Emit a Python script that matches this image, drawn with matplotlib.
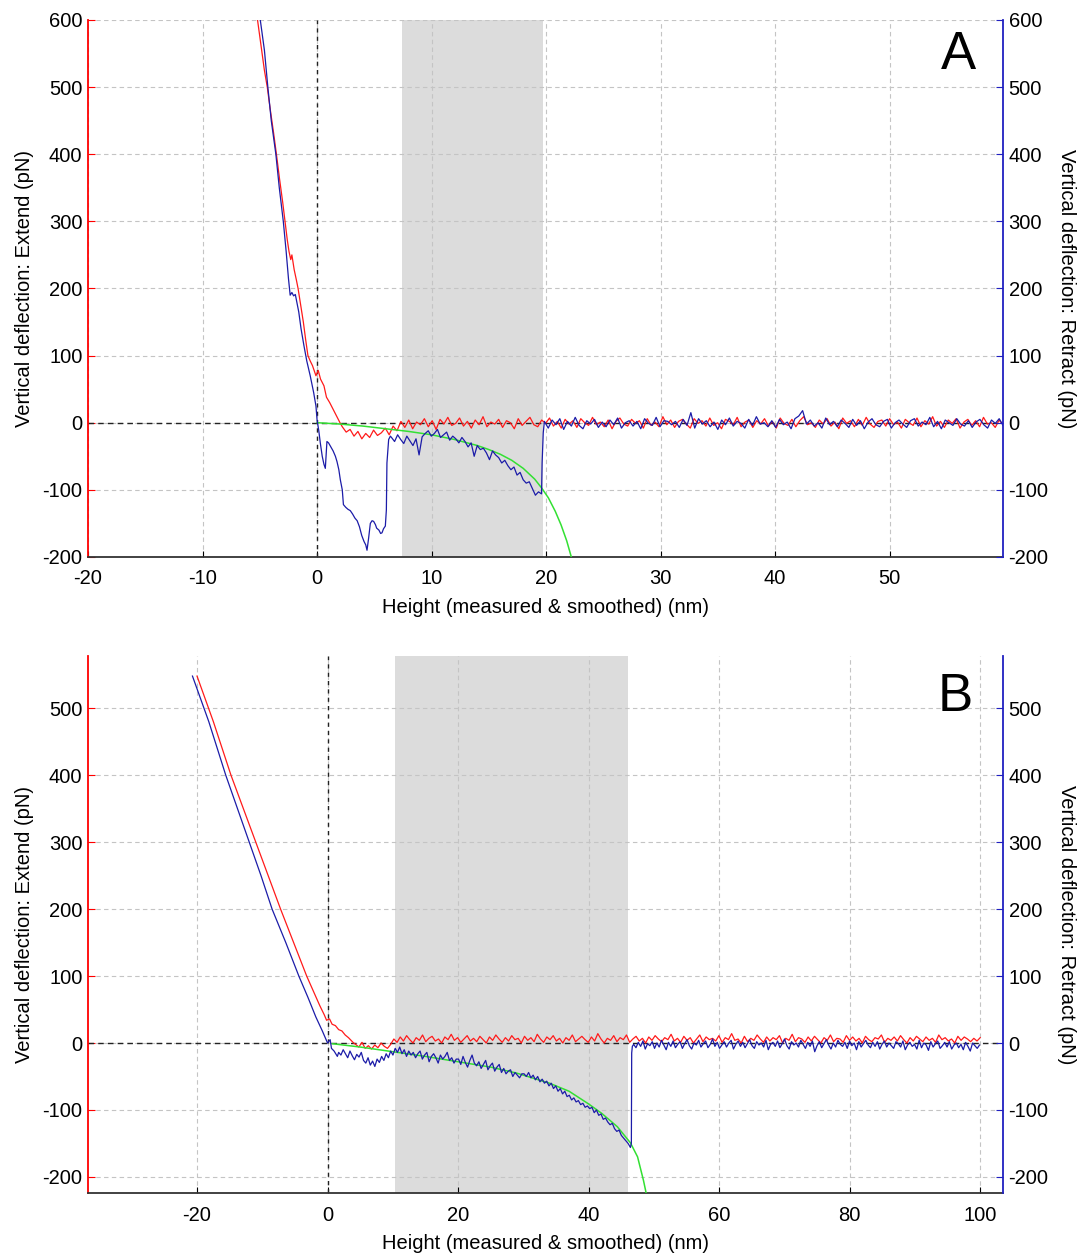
import numpy as np
import matplotlib.pyplot as plt

plt.rcParams['font.family'] = ['Liberation Sans', 'DejaVu Sans']
plt.rcParams['axes.unicode_minus'] = False

# ---------------- panel A data ----------------
# extend (red): steep contact part, then flat noisy tail
a_ext_head = np.array([
    (-5.2, 600), (-4.9, 562), (-4.6, 525), (-4.35, 500), (-4.1, 468), (-3.8, 432),
    (-3.55, 400), (-3.3, 366), (-3.0, 328), (-2.8, 300), (-2.6, 272), (-2.45, 255),
    (-2.3, 243), (-2.2, 250), (-2.0, 228), (-1.8, 212), (-1.66, 200), (-1.4, 172),
    (-1.2, 150), (-1.0, 124), (-0.8, 100), (-0.6, 92), (-0.4, 85), (-0.1, 70),
    (0.1, 78), (0.3, 65), (0.6, 55), (0.82, 38), (1.1, 30), (1.4, 20), (1.7, 10), (2.0, 0)])
a_ext_tail = [
    -6, -14, -10, -20, -13, -24, -16, -22, -11, -19,
    -15, -8, -18, -5, -12, 2, -7, 4, -9, 1,
    -3, 6, -6, 3, -10, 5, -2, 8, -4, -1,
    7, -5, 2, -8, 4, -3, 9, -6, 1, -2,
    5, -7, 3, 0, -9, 6, -4, 2, 8, -3,
    -6, 4, -1, 7, -5, 2, -8, 5, -2, 3,
    -7, 6, 0, -4, 8, -3, 1, -6, 4, -9,
    2, 7, -2, -5, 5, -1, 3, -8, 6, -4,
    1, -6, 9, -3, 4, -7, 2, 5, -2, -8,
    6, -1, 3, -5, 7, -4, 0, -9, 5, 2,
    -3, 8, -6, 1, 4, -7, 3, -2, 6, -5,
    2, -8, 7, -1, -4, 5, -6, 3, 9, -3,
    0, -7, 4, -2, 6, -5, 1, -9, 7, -1,
    3, -6, 5, -4, 8, -2, -7, 2, 4, -5,
    6, -3, 1, -8, 5, 0, -4, 7, -6, 3,
    -2, 9, -5, 2, -7, 4, -1, 6, -8, 1,
    5, -4, 3, -6, 8, -2, 0, -7, 4, -3]
a_ext_tail_x = (2.2, 59.9)

# retract (blue): contact + adhesion peaks
a_ret_head = np.array([
    (-4.96, 600), (-4.6, 555), (-4.3, 500), (-4.0, 450), (-3.6, 400), (-3.3, 350),
    (-2.95, 300), (-2.7, 255), (-2.5, 215), (-2.35, 190), (-2.2, 194), (-2.05, 189),
    (-1.9, 191), (-1.75, 178), (-1.6, 165), (-1.4, 140), (-1.15, 115), (-0.9, 92),
    (-0.6, 70), (-0.3, 45), (-0.1, 25), (0.0, 4), (0.15, -12), (0.28, -30),
    (0.45, -50), (0.6, -62), (0.72, -68), (0.86, -28), (1.0, -30), (1.2, -36),
    (1.4, -42), (1.6, -50), (1.74, -58), (1.9, -70), (2.03, -85), (2.2, -100),
    (2.3, -122), (2.5, -126), (2.7, -129), (2.9, -131), (3.1, -136), (3.3, -142),
    (3.5, -146), (3.7, -155), (3.9, -168), (4.1, -177), (4.25, -182), (4.36, -190),
    (4.5, -172), (4.65, -150), (4.8, -146), (4.94, -147), (5.1, -152), (5.2, -157),
    (5.4, -160), (5.55, -165), (5.67, -164), (5.8, -158), (5.96, -154), (6.05, -130),
    (6.1, -60), (6.25, -25), (6.4, -20)])
# stretched part, x 6.5 -> 19.6
a_ret_mid = [
    -22, -28, -18, -25, -31, -20, -27, -34, -24, -48,
    -21, -16, -12, -20, -16, -10, -22, -18, -14, -26,
    -20, -24, -30, -22, -28, -36, -30, -50, -34, -40,
    -38, -45, -55, -42, -48, -52, -60, -56, -64, -70,
    -66, -78, -74, -85, -90, -88, -98, -108, -103, -106]
a_ret_mid_x = (6.5, 19.6)
a_ret_jump = np.array([(19.65, -60), (19.75, -15)])
# after rupture, x 19.85 -> 59.9
a_ret_tail = [
    2, -8, 4, -3, 6, -10, 2, -5, 8, -4,
    -9, 3, -2, 5, -7, 1, -6, 4, -3, 7,
    -8, 0, 3, -5, 2, -9, 6, -1, -4, 8,
    -6, 3, 2, -3, 2, -7, 5, -4, 15, -8,
    6, -2, 3, -6, 1, -10, 4, -3, 7, -5,
    2, -1, -8, 5, -4, 9, -2, 0, -6, 3,
    -7, 5, -3, 1, -9, 6, 10, 18, -2, 4,
    -5, 0, -8, 7, -3, 2, -6, 4, -1, -7,
    5, -4, 3, -9, 1, 6, -3, -6, 2, 5,
    -8, 0, 4, -2, -7, 3, 6, -5, 1, -3,
    8, -6, 2, -9, 4, 0, -4, 6, -2, -5,
    3, -7, 1, 5, -3, -8, 4, -1, 6, -4]
a_ret_tail_x = (19.85, 59.9)

# fit (green)
a_fit = np.array([
    (0, 0), (2, -2), (4, -5), (6, -9), (8, -13), (10, -18), (12, -25), (14, -34),
    (15, -40), (16, -47), (17, -56), (18, -68), (19, -84), (19.6, -97), (20.2, -112),
    (20.8, -132), (21.3, -152), (21.8, -176), (22.2, -200)])
a_span = (7.4, 19.7)

# ---------------- panel B data ----------------
b_ext_head = np.array([
    (-20.0, 548), (-17.5, 480), (-14.8, 400), (-12.9, 350), (-11.0, 300), (-9.1, 250),
    (-7.2, 200), (-5.2, 150), (-3.2, 100), (-2.2, 78), (-1.2, 56), (-0.5, 42),
    (-0.15, 34), (0.3, 36), (0.7, 28), (1.2, 26), (1.7, 20), (2.2, 18), (2.7, 12),
    (3.2, 8), (3.6, 4), (4.0, 0)])
b_ext_tail = [
    -2, -6, 1, -8, -4, -9, -3, -7, 0, -5, -8, -2,
    6, 1, 9, 3, 11, 5, 0, 8, 4, 12,
    2, 7, 10, 3, 6, 0, 9, 5, 13, 4,
    8, 1, 6, 11, 3, 7, 2, 10, 5, 0,
    9, 4, 12, 6, 1, 8, 3, 11, 5, 7,
    0, 10, 4, 8, 2, 13, 6, 1, 9, 5,
    11, 3, 7, 0, 8, 4, 12, 2, 6, 10,
    5, 1, 9, 3, 14, 6, 0, 7, 4, 11,
    2, 8, 5, 12, 1, 6, 10, 3, 7, 0,
    9, 4, 11, 6, 2, 8, 5, 13, 3, 7,
    1, 10, 4, 8, 0, 6, 12, 2, 9, 5,
    7, 3, 11, 1, 8, 5, 14, 4, 6, 0,
    10, 2, 7, 4, 12, 6, 1, 9, 3, 8,
    5, 11, 0, 7, 4, 13, 2, 8, 6, 1,
    9, 3, 10, 5, 0, 8, 4, 12, 2, 7,
    6, 1, 11, 4, 9, 3, 7, 0, 10, 5,
    2, 8, 6, 12, 1, 7, 4, 9, 3, 11,
    5, 0, 8, 3, 10, 6, 2, 9, 4, 7,
    1, 12, 5, 8, 3, 6, 0, 10, 4, 9,
    6, 2, 7, 3, 8]
b_ext_tail_x = (4.3, 100.0)

b_ret_head = np.array([
    (-20.7, 548), (-18.2, 480), (-15.6, 400), (-13.8, 350), (-12.0, 300), (-10.2, 250),
    (-8.5, 200), (-6.4, 150), (-4.4, 100), (-3.0, 68), (-1.8, 39), (-0.8, 18),
    (0.0, 0), (0.4, 5), (0.6, -8), (1.0, -12), (1.5, -20)])
b_ret_mid = [
    -14, -18, -10, -16, -22, -12, -19, -25, -17, -21, -14, -26, -30,
    -22, -33, -27, -35, -24, -29, -20, -26, -16, -22, -12, -18, -8,
    -14, -6, -16, -10, -20, -12, -18, -14, -22, -16, -12, -24, -18, -14,
    -28, -20, -16, -22, -30, -18, -24, -20, -14, -26, -22, -30, -24,
    -24, -32, -20, -29, -36, -26, -18, -30, -34, -28, -38, -32, -26, -40,
    -34, -30, -42, -36, -32, -44, -38, -46, -42, -40, -50, -44, -48, -52, -46,
    -46, -50, -44, -52, -48, -55, -50, -58, -54, -60, -57, -64, -60, -68,
    -64, -72, -68, -76, -72, -80, -78, -85, -82, -88, -86, -92, -90, -96, -94,
    -98, -96, -104, -100, -108, -106, -114, -112, -118, -122,
    -120, -128, -132, -130, -138, -142, -146, -150, -156]
b_ret_mid_x = (1.7, 46.4)
b_ret_jump = np.array([(46.55, -150), (46.6, -15), (46.7, -5)])
b_ret_tail = [
    -2, -7, 1, -5, 3, -9, -1, -4, 2, -8,
    0, -6, 4, -3, -10, 1, -5, 3, -7, -2,
    2, -8, -1, 5, -4, -9, 0, -3, 4, -6,
    -1, 3, -7, -2, 6, -5, 1, -8, -3, 2,
    -6, 0, 4, -9, -2, 3, -5, 1, -7, -1,
    5, -4, -8, 2, -3, 0, -6, 4, -10, -2,
    1, -5, 3, -7, -1, 6, -4, -9, 2, -3,
    0, -6, 4, -2, -8, 1, -5, 3, -13, -4,
    2, -7, -1, 5, -3, -9, 0, -6, 4, -2,
    -5, 1, -8, 3, -4, 0, -10, 2, -6, -1,
    4, -3, -7, 1, -5, 2, -9, -2, 3, -6,
    0, -4, -8, 2, -1, -6, 3, -10, -3, 1,
    -5, -2, -9, 4, -7, 0, -3, -11, 2, -6,
    -1, 3, -8, -4, 1, -6, 2, -9, -3, 0,
    -7, -2, -10, 1, -5, -12, 0, -4, -8, -3]
b_ret_tail_x = (46.9, 99.9)

b_fit = np.array([
    (0.7, -1), (5, -6), (10, -13), (15, -20), (20, -28), (25, -36), (29, -45),
    (34, -60), (37, -72), (40, -91), (42, -105), (44.4, -125), (46.4, -149),
    (47.5, -170), (48.4, -205), (48.9, -228)])
b_span = (10.4, 46.1)

FS = 14.5


def join(head, tail, tail_x, *extra):
    xs = [head[:, 0]]
    ys = [head[:, 1]]
    for e in extra:
        xs.append(e[0]); ys.append(e[1])
    xs.append(np.linspace(tail_x[0], tail_x[1], len(tail)))
    ys.append(np.asarray(tail, float))
    return np.concatenate(xs), np.concatenate(ys)


def style(ax, xlim, ylim, xticks, yticks, letter, lx, ly):
    ax.set_xlim(xlim)
    ax.set_ylim(ylim)
    ax.set_xticks(xticks)
    ax.set_yticks(yticks)
    ax.set_axisbelow(True)
    ax.grid(True, linestyle=(0, (4, 3)), color='#c4c4c4', lw=0.8)
    ax.axhline(0, color='#222222', lw=1.0, ls=(0, (4, 3)), zorder=1)
    ax.axvline(0, color='#222222', lw=1.0, ls=(0, (3, 3)), zorder=1)
    ax.spines['top'].set_visible(False)
    ax.spines['left'].set_color('red')
    ax.spines['left'].set_linewidth(1.3)
    ax.spines['bottom'].set_linewidth(1.3)
    ax.spines['bottom'].set_color('#333333')
    ax.spines['right'].set_visible(False)
    ax.tick_params(axis='x', direction='in', length=4, pad=9, labelsize=FS)
    ax.tick_params(axis='y', direction='in', length=5, color='red', pad=4, labelsize=FS)
    ax.set_xlabel('Height (measured & smoothed) (nm)', fontsize=FS, labelpad=7)
    ax.set_ylabel('Vertical deflection: Extend (pN)', fontsize=FS, labelpad=6)
    ax2 = ax.twinx()
    ax2.set_ylim(ylim)
    ax2.set_yticks(yticks)
    ax2.spines['top'].set_visible(False)
    ax2.spines['left'].set_visible(False)
    ax2.spines['bottom'].set_visible(False)
    ax2.spines['right'].set_color('#2020c0')
    ax2.spines['right'].set_linewidth(1.3)
    ax2.tick_params(axis='y', direction='in', length=5, color='#2020c0', pad=4, labelsize=FS)
    ax2.set_ylabel('Vertical deflection: Retract (pN)', fontsize=FS, rotation=270, labelpad=20)
    ax.text(lx, ly, letter, transform=ax.transAxes, fontsize=38, ha='center', va='center')


fig = plt.figure(figsize=(10.79, 12.55), dpi=100)

red = '#ff1a1a'
blue = '#1c1ca8'
green = '#33e033'

# panel A
axA = fig.add_axes([0.0816, 0.5562, 0.848, 0.4279])
axA.axvspan(*a_span, color='#dcdcdc', lw=0, zorder=0.2)
x, y = join(a_ext_head, a_ext_tail, a_ext_tail_x)
axA.plot(x, y, color=red, lw=0.9, zorder=3)
axA.plot(a_fit[:, 0], a_fit[:, 1], color=green, lw=1.1, zorder=4)
x, y = join(a_ret_head, a_ret_tail, a_ret_tail_x,
            (np.linspace(*a_ret_mid_x, len(a_ret_mid)), np.asarray(a_ret_mid, float)),
            (a_ret_jump[:, 0], a_ret_jump[:, 1]))
axA.plot(x, y, color=blue, lw=0.9, zorder=5)
style(axA, (-20, 59.9), (-200, 600), np.arange(-20, 51, 10), np.arange(-200, 601, 100),
      'A', 0.951, 0.935)

# panel B
axB = fig.add_axes([0.0816, 0.0494, 0.848, 0.4279])
axB.axvspan(*b_span, color='#dcdcdc', lw=0, zorder=0.2)
x, y = join(b_ext_head, b_ext_tail, b_ext_tail_x)
axB.plot(x, y, color=red, lw=0.9, zorder=3)
axB.plot(b_fit[:, 0], b_fit[:, 1], color=green, lw=1.1, zorder=4)
x, y = join(b_ret_head, b_ret_tail, b_ret_tail_x,
            (np.linspace(*b_ret_mid_x, len(b_ret_mid)), np.asarray(b_ret_mid, float)),
            (b_ret_jump[:, 0], b_ret_jump[:, 1]))
axB.plot(x, y, color=blue, lw=0.9, zorder=5)
style(axB, (-36.7, 103.5), (-224, 578), np.arange(-20, 101, 20), np.arange(-200, 501, 100),
      'B', 0.948, 0.924)

fig.savefig('out.png', dpi=100)
